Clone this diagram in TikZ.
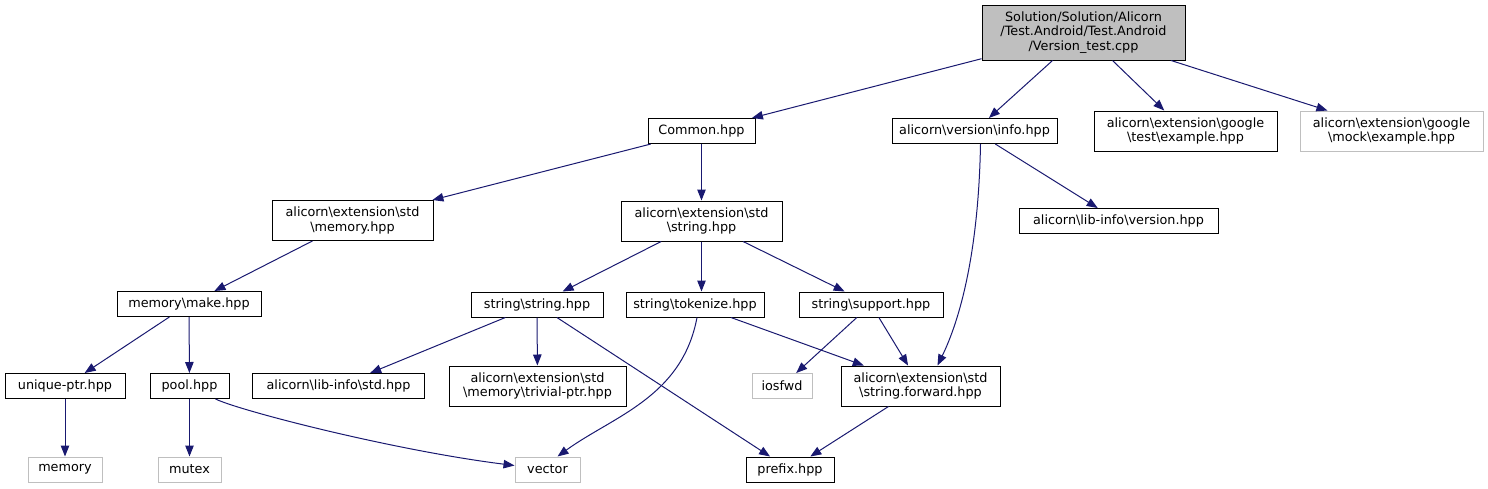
\documentclass[tikz,border=0pt]{standalone}
\usepackage{fontspec}
\setmainfont{DejaVu Sans}
\usepackage{tikz}
\usetikzlibrary{arrows.meta, positioning, calc}
\definecolor{edgeblue}{HTML}{191970}
\definecolor{boxgray}{HTML}{BFBFBF}
\newcommand{\bs}{\textbackslash}

\begin{document}
\begin{tikzpicture}[x=1pt, y=-1pt, >={Triangle[length=11pt, width=8.5pt]},
  every node/.style={font=\fontsize{12.8}{14.5}\selectfont, align=center, inner sep=0pt},
  file/.style={draw, line width=1pt, minimum height=25pt},
  twoline/.style={minimum height=40pt},
  sysfile/.style={file, draw=boxgray},
  dep/.style={->, edgeblue, line width=1pt}]
\useasboundingbox (0,0) rectangle (1488,488);
% files
\node[file, fill=boxgray, minimum width=203, minimum height=55] (root) at (1083.5,32.5)
  {Solution/Solution/Alicorn\\/Test.Android/Test.Android\\/Version\_test.cpp};
\node[file, minimum width=107] (common) at (701.5,131) {Common.hpp};
\node[file, minimum width=165] (info) at (974.5,131) {alicorn\bs version\bs info.hpp};
\node[file, twoline, minimum width=183] (gtest) at (1185.5,131) {alicorn\bs extension\bs google\\\bs test\bs example.hpp};
\node[sysfile, twoline, minimum width=183] (gmock) at (1391.5,131) {alicorn\bs extension\bs google\\\bs mock\bs example.hpp};
\node[file, twoline, minimum width=161] (memhpp) at (352.5,220.5) {alicorn\bs extension\bs std\\\bs memory.hpp};
\node[file, twoline, minimum width=161] (strhpp) at (701.5,221) {alicorn\bs extension\bs std\\\bs string.hpp};
\node[file, minimum width=199] (libver) at (1118.5,221) {alicorn\bs lib-info\bs version.hpp};
\node[file, minimum width=144] (make) at (189,304) {memory\bs make.hpp};
\node[file, minimum width=132] (sstring) at (537,304.5) {string\bs string.hpp};
\node[file, minimum width=138] (tokenize) at (695,304.5) {string\bs tokenize.hpp};
\node[file, minimum width=144] (support) at (871,304.5) {string\bs support.hpp};
\node[file, minimum width=120] (uniqptr) at (65,386) {unique-ptr.hpp};
\node[file, minimum width=79] (pool) at (189.5,386) {pool.hpp};
\node[file, minimum width=172] (libstd) at (338.5,386) {alicorn\bs lib-info\bs std.hpp};
\node[file, twoline, minimum width=177] (trivial) at (537.5,386) {alicorn\bs extension\bs std\\\bs memory\bs trivial-ptr.hpp};
\node[sysfile, minimum width=60] (iosfwd) at (782,386) {iosfwd};
\node[file, twoline, minimum width=159] (strfwd) at (920.5,386) {alicorn\bs extension\bs std\\\bs string.forward.hpp};
\node[sysfile, minimum width=74] (memory) at (65,469.5) {memory};
\node[sysfile, minimum width=63] (mutex) at (189.5,469.5) {mutex};
\node[sysfile, minimum width=65] (vector) at (547.5,469.5) {vector};
\node[file, minimum width=88] (prefix) at (790,469.5) {prefix.hpp};
% includes
\draw[dep] (root) -- (common);
\draw[dep] (root) -- (info);
\draw[dep] (root) -- (gtest);
\draw[dep] (root) -- (gmock);
\draw[dep] (common) -- (memhpp);
\draw[dep] (common) -- (strhpp);
\draw[dep] (info) -- (libver);
\draw[dep] ($(info.south)+(6,0)$) .. controls +(-2,110) and +(22,-45) .. ($(strfwd.north)+(17,0)$);
\draw[dep] (memhpp) -- (make);
\draw[dep] (strhpp) -- (sstring);
\draw[dep] (strhpp.south) -- (strhpp.south |- tokenize.north);
\draw[dep] (strhpp) -- (support);
\draw[dep] (make) -- (uniqptr);
\draw[dep] (make) -- (pool);
\draw[dep] (sstring) -- (libstd);
\draw[dep] (sstring) -- (trivial);
\draw[dep] (sstring) -- (prefix);
\draw[dep] ($(tokenize.south)+(2,0)$) .. controls +(-15,80) and +(55,-40) .. ($(vector.north)+(10,0)$);
\draw[dep] (tokenize) -- (strfwd);
\draw[dep] (support) -- (iosfwd);
\draw[dep] (support) -- (strfwd);
\draw[dep] (uniqptr) -- (memory);
\draw[dep] (pool) -- (mutex);
\draw[dep] ($(pool.south)+(26,0)$) .. controls +(25,12) and +(-120,-15) .. ($(vector.west)+(0,-4)$);
\draw[dep] (strfwd) -- (prefix);
\end{tikzpicture}
\end{document}
